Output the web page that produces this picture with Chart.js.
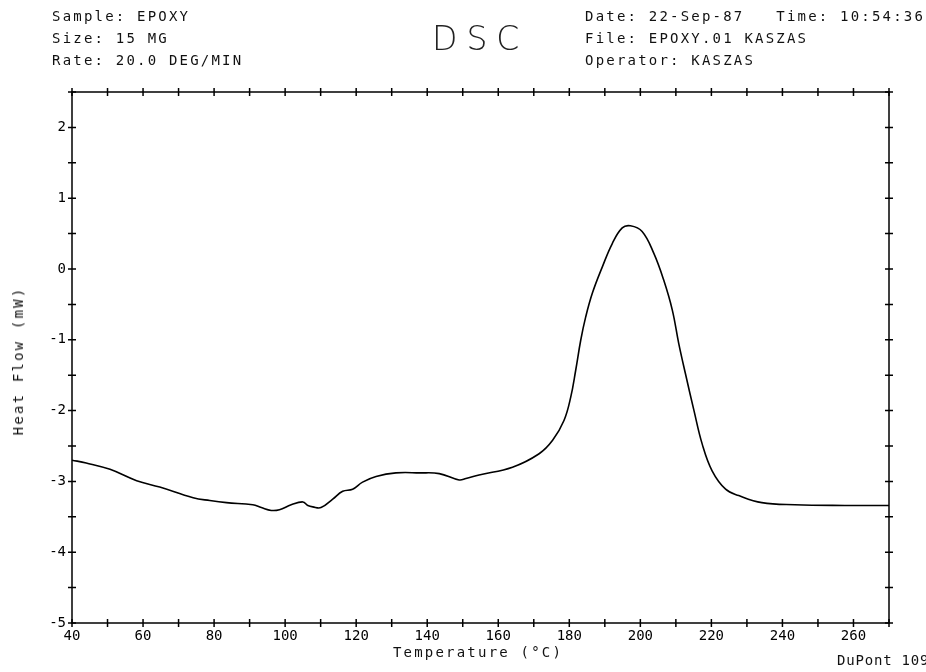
<!DOCTYPE html>
<html>
<head>
<meta charset="utf-8">
<script src="https://cdn.jsdelivr.net/npm/chart.js@4/dist/chart.umd.min.js"></script>
<style>
  body { margin: 0; background: #fff; }
  #wrap { position: relative; width: 926px; height: 672px; overflow: hidden; }
  .txt { position: absolute; font-family: 'DejaVu Sans Mono', monospace; font-size: 14px; letter-spacing: 2.2px; color: #111; line-height: 22px; white-space: pre; }
  #dsc { position: absolute; left: 432px; top: 22px; font-family: 'DejaVu Sans', sans-serif; font-weight: 200; font-size: 33px; line-height: 1; letter-spacing: 9px; color: #222; }
  #ytitle { left: 18px; top: 361px; transform: translate(-50%, -50%) rotate(-90deg); }
  #xtitle { left: 478px; top: 652px; transform: translate(-50%, -50%); }
  #dupont { left: 837px; top: 649px; letter-spacing: 0.8px; }
</style>
</head>
<body>
<div id="wrap">
  <canvas id="dsc_chart" width="926" height="672"></canvas>
  <div class="txt" style="left:52px;top:5px">Sample: EPOXY
Size: 15 MG
Rate: 20.0 DEG/MIN</div>
  <div id="dsc">DSC</div>
  <div class="txt" style="left:585px;top:5px">Date: 22-Sep-87   Time: 10:54:36
File: EPOXY.01 KASZAS
Operator: KASZAS</div>
  <div class="txt" id="ytitle"></div>
  <div class="txt" id="xtitle"></div>
  <div class="txt" id="dupont">DuPont 1090</div>
</div>
<script>
// temperature (°C) and heat flow (mW)
const temperature = [40, 44, 50.7, 58.2, 64.7, 74.1, 78.8, 83.5, 90.9, 93.3, 96.1, 98.4, 101.7, 105, 106.4, 107.8, 110.1, 113.4, 116.2, 119, 121.8, 125.6, 131.2, 137.8, 143.4, 149, 150.9, 154.6, 164, 171.5, 175.3, 178.5, 180.4, 181.8, 183.2, 184.6, 186.5, 189.3, 192.1, 194.9, 197.2, 200.5, 203.8, 206.6, 209, 210.8, 212.7, 215.1, 217.4, 220.2, 224, 227.7, 234.2, 243.5, 257.6, 270]
const heatFlow = [-2.70, -2.74, -2.83, -2.99, -3.08, -3.23, -3.27, -3.30, -3.33, -3.37, -3.41, -3.40, -3.33, -3.29, -3.34, -3.36, -3.37, -3.25, -3.14, -3.11, -3.01, -2.93, -2.88, -2.88, -2.89, -2.98, -2.96, -2.91, -2.80, -2.61, -2.42, -2.14, -1.81, -1.43, -1.01, -0.68, -0.34, 0.03, 0.36, 0.58, 0.61, 0.53, 0.22, -0.16, -0.58, -1.05, -1.48, -2.00, -2.47, -2.85, -3.11, -3.20, -3.30, -3.33, -3.34, -3.34]

const xTitle = 'Temperature (°C)'
const yTitle = 'Heat Flow (mW)'
document.getElementById('xtitle').textContent = xTitle
document.getElementById('ytitle').textContent = yTitle

const tickFont = { family: 'DejaVu Sans Mono', size: 14 }

// plus-shaped tick marks on all four borders
const crossTicks = {
  id: 'crossTicks',
  afterDraw(chart) {
    const { ctx, chartArea: a, scales } = chart
    const len = 4
    ctx.save()
    ctx.strokeStyle = '#000'
    ctx.lineWidth = 1.5
    ctx.beginPath()
    scales.x.ticks.forEach(t => {
      const px = scales.x.getPixelForValue(t.value)
      ctx.moveTo(px, a.top - len); ctx.lineTo(px, a.top + len)
      ctx.moveTo(px, a.bottom - len); ctx.lineTo(px, a.bottom + len)
    })
    scales.y.ticks.forEach(t => {
      const py = scales.y.getPixelForValue(t.value)
      ctx.moveTo(a.left - len, py); ctx.lineTo(a.left + len, py)
      ctx.moveTo(a.right - len, py); ctx.lineTo(a.right + len, py)
    })
    ctx.stroke()
    ctx.strokeRect(a.left, a.top, a.right - a.left, a.bottom - a.top)
    ctx.restore()
  }
}

new Chart(document.getElementById('dsc_chart').getContext('2d'), {
  type: 'line',
  data: {
    datasets: [
      {
        data: temperature.map((t, i) => ({ x: t, y: heatFlow[i] })),
        borderColor: '#000',
        borderWidth: 1.6,
        pointRadius: 0,
        tension: 0.4,
      },
    ],
  },
  options: {
    responsive: false,
    animation: false,
    layout: { padding: { left: 0, top: 92, right: 37, bottom: 0 } },
    plugins: {
      legend: { display: false },
      tooltip: { enabled: false },
    },
    scales: {
      x: {
        type: 'linear',
        min: 40,
        max: 270,
        grid: { display: false, drawTicks: false },
        border: { display: false },
        afterFit: s => { s.height = 49 },
        ticks: {
          stepSize: 10,
          color: '#000',
          font: tickFont,
          padding: 5,
          maxRotation: 0,
          autoSkip: false,
          callback: v => (v % 20 === 0 ? v : ''),
        },
      },
      y: {
        min: -5,
        max: 2.5,
        grid: { display: false, drawTicks: false },
        border: { display: false },
        afterFit: s => { s.width = 72 },
        ticks: {
          stepSize: 0.5,
          color: '#000',
          font: tickFont,
          padding: 6,
          autoSkip: false,
          callback: v => (Number.isInteger(v) ? v : ''),
        },
      },
    },
  },
  plugins: [crossTicks],
})
</script>
</body>
</html>
